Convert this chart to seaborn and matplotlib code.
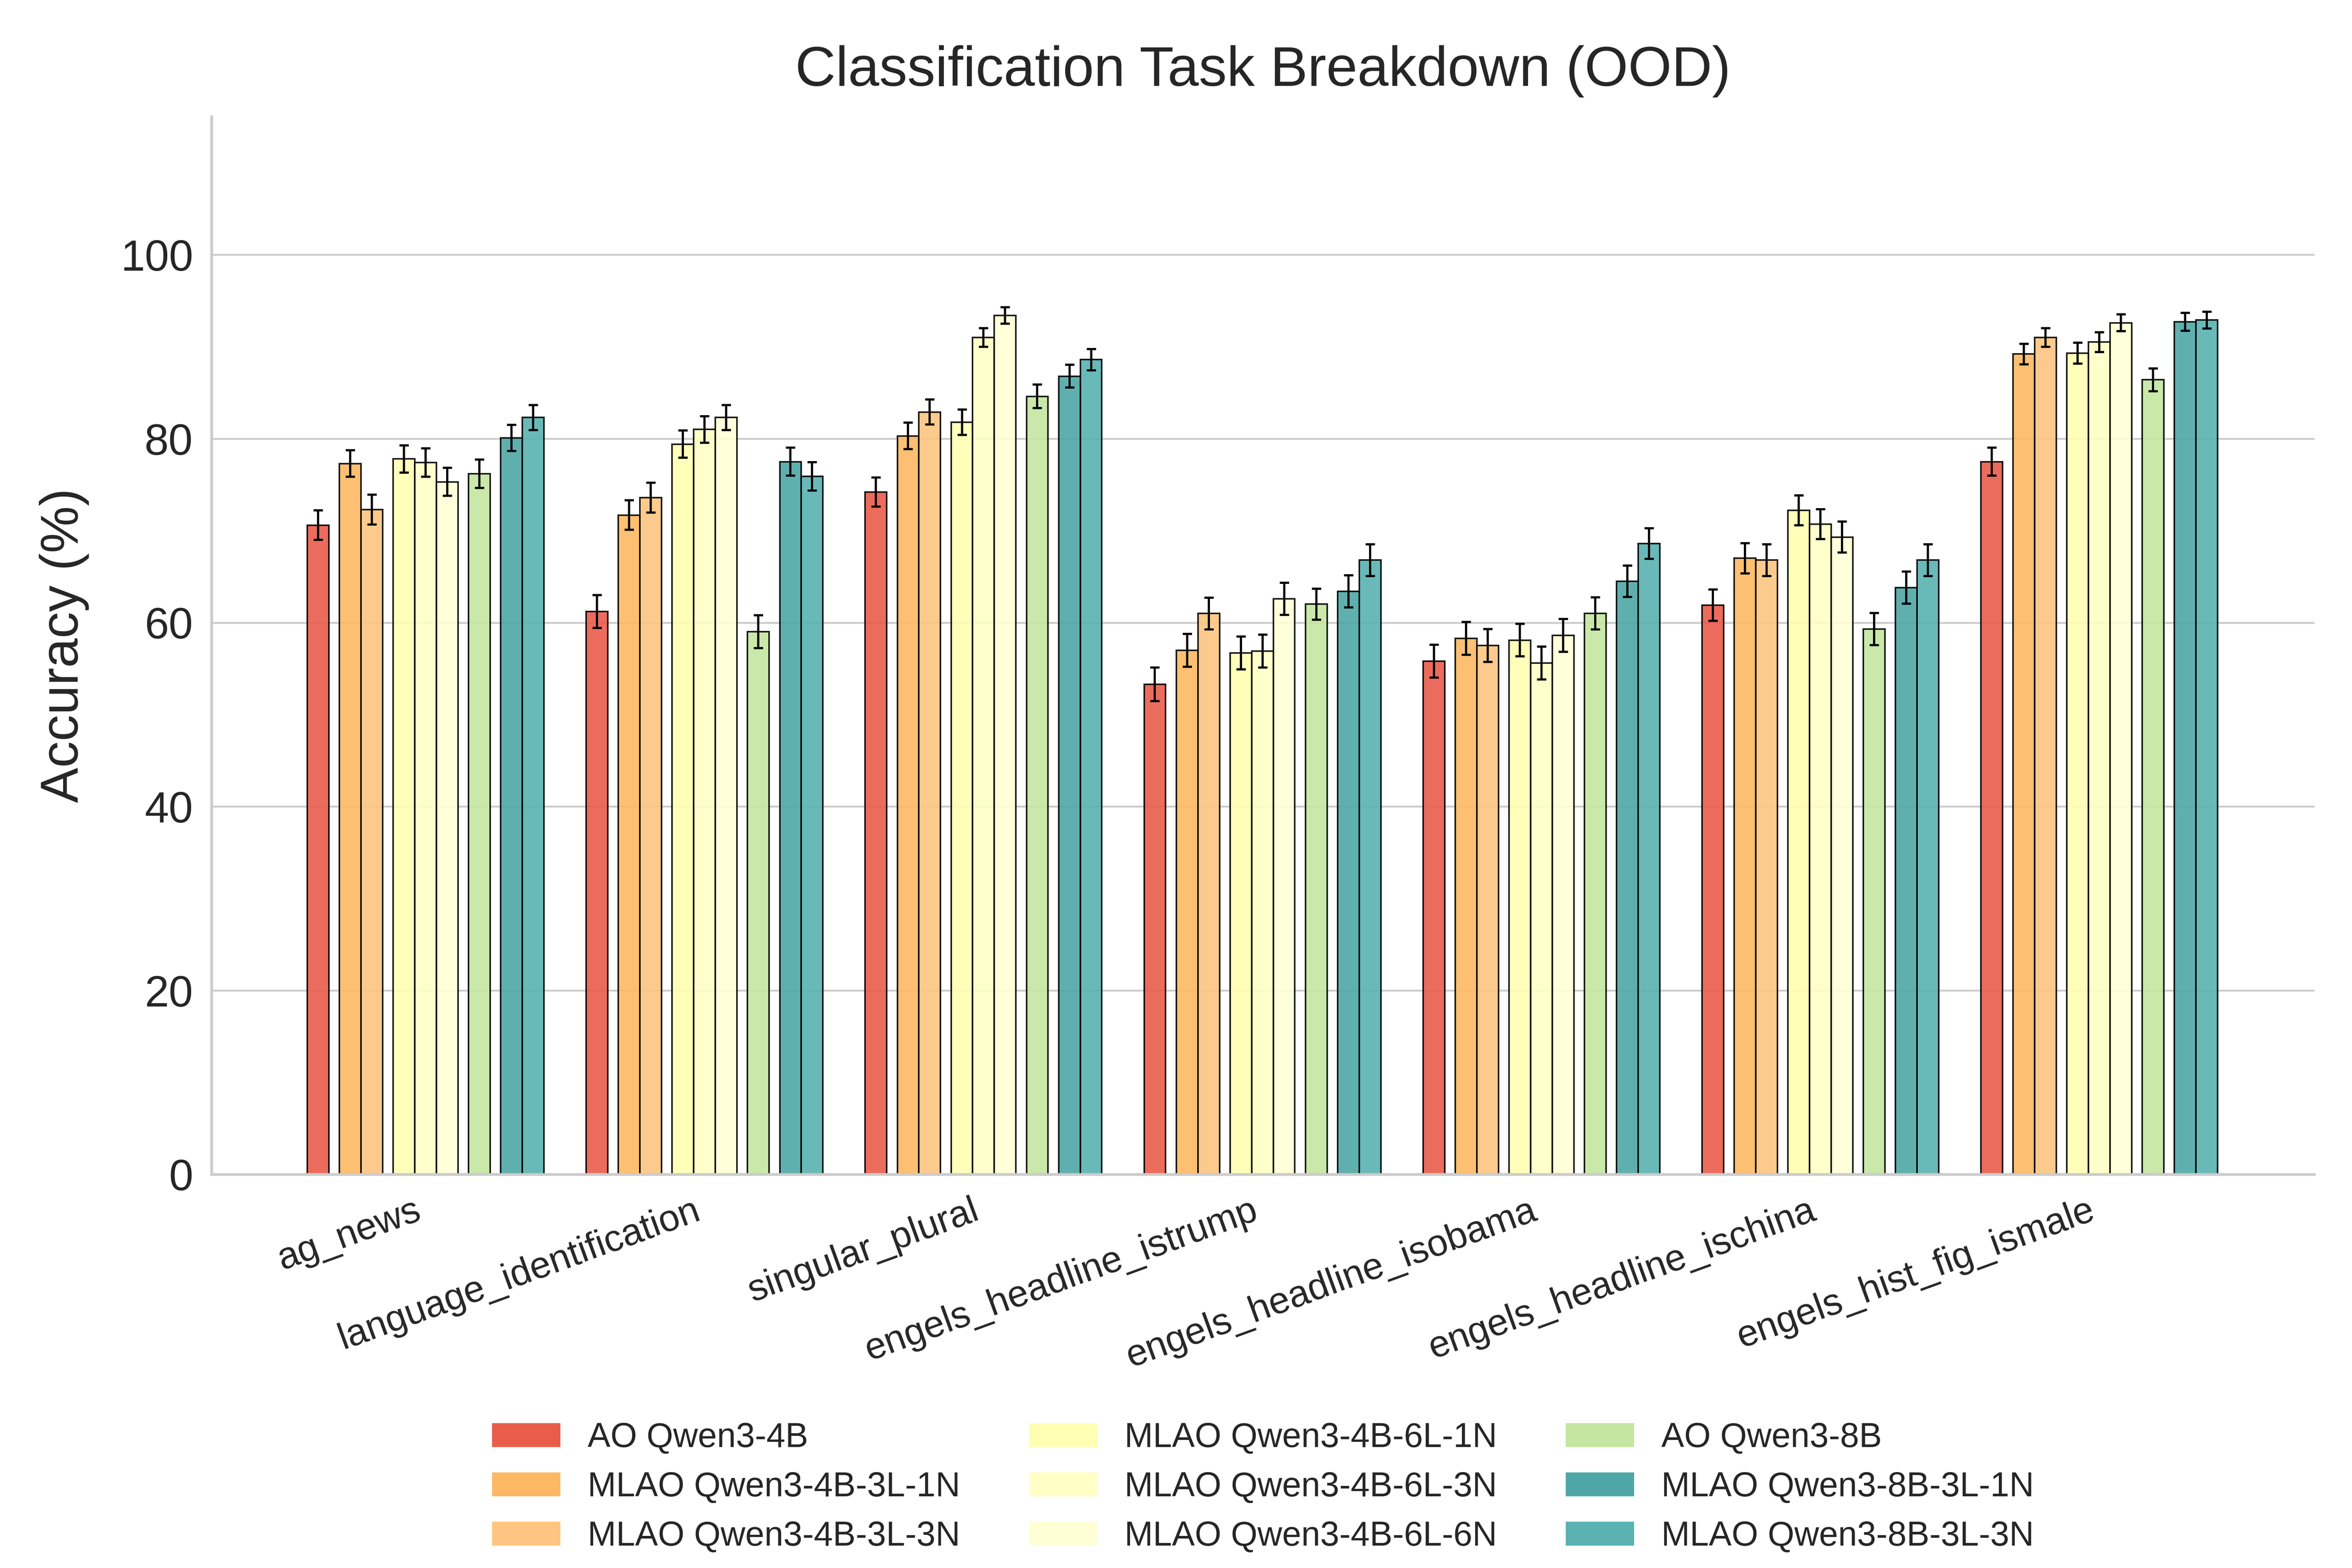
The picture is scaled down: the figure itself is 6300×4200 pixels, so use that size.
import numpy as np
import pandas as pd
import matplotlib
matplotlib.use("Agg")
import matplotlib.pyplot as plt
from matplotlib.patches import Patch
import seaborn as sns

# ---------------- data ----------------
tasks = ["ag_news", "language_identification", "singular_plural",
         "engels_headline_istrump", "engels_headline_isobama",
         "engels_headline_ischina", "engels_hist_fig_ismale"]

series = ["AO Qwen3-4B", "MLAO Qwen3-4B-3L-1N", "MLAO Qwen3-4B-3L-3N",
          "MLAO Qwen3-4B-6L-1N", "MLAO Qwen3-4B-6L-3N", "MLAO Qwen3-4B-6L-6N",
          "AO Qwen3-8B", "MLAO Qwen3-8B-3L-1N", "MLAO Qwen3-8B-3L-3N"]

ao_4b          = [70.6, 61.2, 74.2, 53.3, 55.8, 61.9, 77.5]
mlao_4b_3l_1n  = [77.3, 71.7, 80.3, 57.0, 58.3, 67.0, 89.2]
mlao_4b_3l_3n  = [72.3, 73.6, 82.9, 61.0, 57.5, 66.8, 91.0]
mlao_4b_6l_1n  = [77.8, 79.4, 81.8, 56.7, 58.1, 72.2, 89.3]
mlao_4b_6l_3n  = [77.4, 81.0, 91.0, 56.9, 55.6, 70.7, 90.5]
mlao_4b_6l_6n  = [75.3, 82.3, 93.4, 62.6, 58.6, 69.3, 92.6]
ao_8b          = [76.2, 59.0, 84.6, 62.0, 61.0, 59.3, 86.4]
mlao_8b_3l_1n  = [80.1, 77.5, 86.8, 63.4, 64.5, 63.8, 92.7]
mlao_8b_3l_3n  = [82.3, 75.9, 88.6, 66.8, 68.6, 66.8, 92.9]

err_ao_4b          = [1.60, 1.79, 1.58, 1.82, 1.79, 1.72, 1.52]
err_mlao_4b_3l_1n  = [1.45, 1.62, 1.45, 1.79, 1.79, 1.65, 1.11]
err_mlao_4b_3l_3n  = [1.62, 1.62, 1.35, 1.72, 1.79, 1.72, 1.00]
err_mlao_4b_6l_1n  = [1.48, 1.48, 1.38, 1.79, 1.75, 1.62, 1.15]
err_mlao_4b_6l_3n  = [1.55, 1.45, 1.00, 1.79, 1.79, 1.62, 1.08]
err_mlao_4b_6l_6n  = [1.52, 1.35, 0.91, 1.75, 1.79, 1.69, 0.91]
err_ao_8b          = [1.55, 1.79, 1.28, 1.69, 1.75, 1.75, 1.25]
err_mlao_8b_3l_1n  = [1.42, 1.52, 1.25, 1.75, 1.72, 1.75, 0.98]
err_mlao_8b_3l_3n  = [1.35, 1.55, 1.15, 1.72, 1.65, 1.72, 0.91]

values = [ao_4b, mlao_4b_3l_1n, mlao_4b_3l_3n, mlao_4b_6l_1n, mlao_4b_6l_3n,
          mlao_4b_6l_6n, ao_8b, mlao_8b_3l_1n, mlao_8b_3l_3n]
errors = [err_ao_4b, err_mlao_4b_3l_1n, err_mlao_4b_3l_3n, err_mlao_4b_6l_1n,
          err_mlao_4b_6l_3n, err_mlao_4b_6l_6n, err_ao_8b, err_mlao_8b_3l_1n,
          err_mlao_8b_3l_3n]

# ---------------- style ----------------
colors = ["#E95C4A", "#FDB863", "#FDC581", "#FFFFB3", "#FFFFC6", "#FFFFD6",
          "#C4E6A0", "#4FA6A6", "#5AB2B2"]
subgroup = [0, 1, 1, 2, 2, 2, 3, 4, 4]   # visual clusters inside a task group

sns.set_theme(style="whitegrid")
plt.rcParams["font.family"] = ["Liberation Sans", "DejaVu Sans"]
plt.rcParams["axes.edgecolor"] = "#cccccc"
plt.rcParams["axes.linewidth"] = 0.9
plt.rcParams["grid.color"] = "#cccccc"
plt.rcParams["grid.linewidth"] = 0.6

fig = plt.figure(figsize=(10.5, 7), dpi=600)
ax = fig.add_axes([0.09, 0.251, 0.894, 0.6745])

bar_w = 0.0775
gap = 0.0378
# offsets of each bar centre within a group
offs = []
cur = 0.0
for i, sg in enumerate(subgroup):
    if i > 0 and sg != subgroup[i - 1]:
        cur += gap
    offs.append(cur + bar_w / 2)
    cur += bar_w
total = cur
offs = [o - total / 2 for o in offs]

base = np.arange(len(tasks))
rows = []
for s, name in enumerate(series):
    for t, task in enumerate(tasks):
        rows.append({"series": name, "task": task, "pos": base[t] + offs[s],
                     "acc": values[s][t], "err": errors[s][t]})
df = pd.DataFrame(rows)

for s, name in enumerate(series):
    d = df[df["series"] == name]
    sns.barplot(data=d, x="pos", y="acc", native_scale=True, orient="x",
                width=bar_w, color=colors[s], saturation=1, alpha=0.9,
                edgecolor="black", linewidth=0.5, errorbar=None, ax=ax)
    ax.errorbar(d["pos"], d["acc"], yerr=d["err"], fmt="none", ecolor="black",
                elinewidth=0.7, capsize=1.5, capthick=0.7, zorder=5)

ax.set_xlim(-0.767, 6.771)
ax.set_ylim(0, 115)
ax.set_yticks([0, 20, 40, 60, 80, 100])
ax.set_xticks(base)
ax.set_xticklabels(tasks, rotation=20, ha="right", fontsize=12, color="#262626")
ax.tick_params(axis="y", labelsize=14, labelcolor="#262626", length=0, pad=6)
ax.tick_params(axis="x", length=0, pad=6)
ax.xaxis.grid(False)
ax.yaxis.grid(True)
ax.set_axisbelow(True)
ax.set_xlabel("")
ax.set_ylabel("Accuracy (%)", fontsize=17, color="#262626", labelpad=10)
ax.set_title("Classification Task Breakdown (OOD)", fontsize=18,
             color="#262626", pad=10)
sns.despine(ax=ax)

handles = [Patch(facecolor=c, edgecolor="none", label=n) for c, n in zip(colors, series)]
ax.legend(handles=handles, loc="upper center", bbox_to_anchor=(0.5, -0.205),
          ncol=3, frameon=False, fontsize=11)

fig.savefig("out.png", dpi=600)
